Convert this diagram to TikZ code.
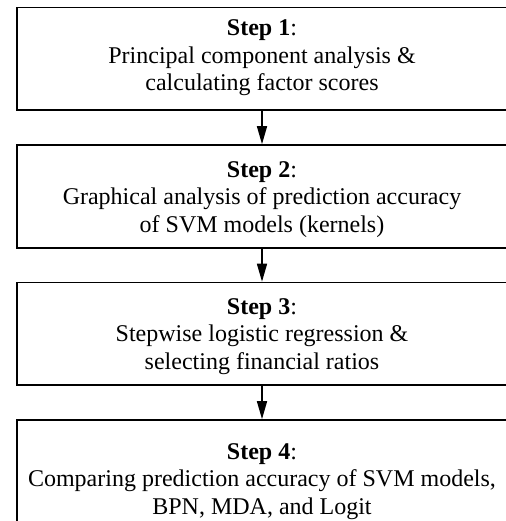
\documentclass[tikz,border=0pt]{standalone}
\usepackage{fontspec}
\setmainfont{Liberation Serif}
\usetikzlibrary{arrows.meta}
\begin{document}
\begin{tikzpicture}[x=1pt,y=1pt,
  stepbox/.style={draw=black,line width=1.6pt,fill=none},
  steptext/.style={anchor=north,align=center,inner sep=0pt,
    font=\fontsize{24}{27.4}\selectfont},
  flow/.style={line width=1.5pt,-{Triangle[length=18pt,width=10pt]}}]
\useasboundingbox (0,0) rectangle (505,-521);
\node[stepbox,minimum width=491pt,minimum height=102.5pt,inner sep=0pt] (s1) at (262.5,-58.75) {};
\node[stepbox,minimum width=491pt,minimum height=103pt,inner sep=0pt] (s2) at (262.5,-196.5) {};
\node[stepbox,minimum width=491pt,minimum height=102.5pt,inner sep=0pt] (s3) at (262.5,-333.75) {};
\node[stepbox,minimum width=491pt,minimum height=120pt,inner sep=0pt] (s4) at (262.5,-480) {};
\node[steptext] (t1) at (262,-19.8) {\textbf{Step 1}:\\Principal component analysis \&\\calculating factor scores};
\node[steptext] (t2) at (262,-161.5) {\textbf{Step 2}:\\Graphical analysis of prediction accuracy\\of SVM models (kernels)};
\node[steptext] (t3) at (262,-298.5) {\textbf{Step 3}:\\Stepwise logistic regression \&\\selecting financial ratios};
\node[steptext] (t4) at (262,-443.5) {\textbf{Step 4}:\\Comparing prediction accuracy of SVM models,\\BPN, MDA, and Logit};
\draw[flow] (s1.south -| 262,0) -- (s2.north -| 262,0);
\draw[flow] (s2.south -| 262,0) -- (s3.north -| 262,0);
\draw[flow] (s3.south -| 262,0) -- (s4.north -| 262,0);
\end{tikzpicture}
\end{document}
